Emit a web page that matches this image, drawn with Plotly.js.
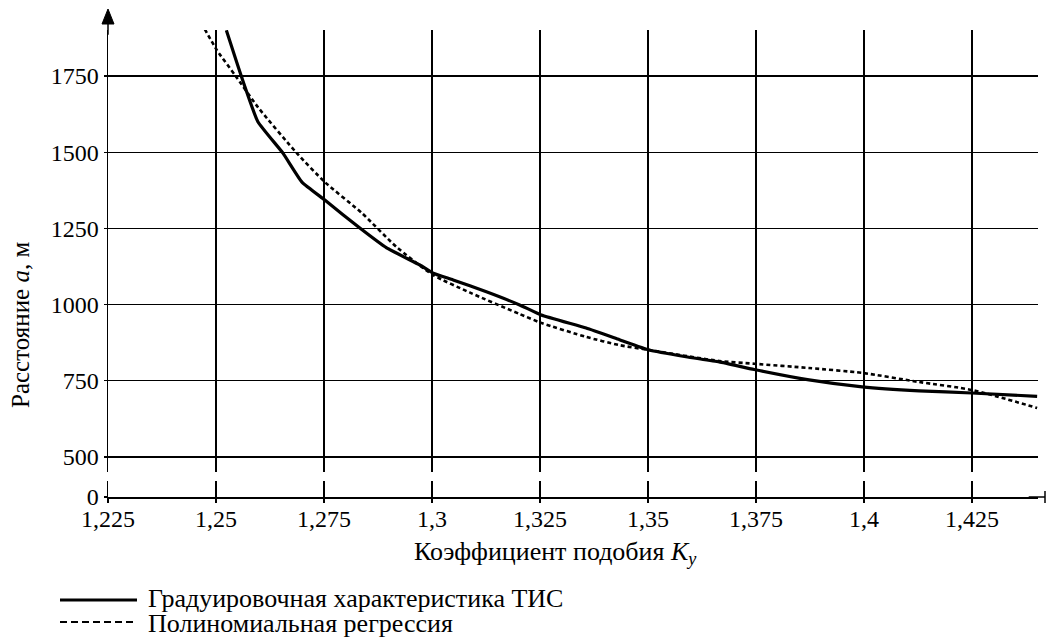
<!DOCTYPE html>
<html>
<head>
<meta charset="utf-8">
<script src="https://cdn.plot.ly/plotly-3.0.1.min.js"></script>
<style>html,body{margin:0;padding:0;background:#fff;}#chart{width:1047px;height:639px;}</style>
</head>
<body>
<div id="chart"></div>
<script>
// Calibration curve (solid)
const xSolid = [1.2524,1.2559,1.2597,1.2655,1.2699,1.2752,1.2833,1.2895,1.2972,1.3003,1.3049,1.3126,1.3203,1.3253,1.3357,1.3434,1.3503,1.3588,1.3665,1.3746,1.3873,1.3996,1.4128,1.4250,1.4401];
const ySolid = [1900,1748,1600,1497,1402,1343,1251,1186,1130,1103,1081,1042,999,966,923,885,851,829,812,787,753,730,717,710,699];
// Polynomial regression (dotted)
const xPoly = [1.2474,1.2502,1.2544,1.2597,1.2687,1.2752,1.2838,1.2918,1.3003,1.3087,1.3203,1.3253,1.3357,1.3434,1.3503,1.3665,1.3746,1.3873,1.3996,1.4128,1.4250,1.4401];
const yPoly = [1904,1835,1753,1648,1497,1402,1300,1189,1097,1040,969,940,894,867,851,815,806,792,776,746,720,661];

const seriesNames = ['Градуировочная характеристика ТИС', 'Полиномиальная регрессия'];

const xTickVals = [1.225,1.25,1.275,1.3,1.325,1.35,1.375,1.4,1.425];
const xTickText = ['1,225','1,25','1,275','1,3','1,325','1,35','1,375','1,4','1,425'];
const yLowTickVals = [0];
const yLowTickText = ['0'];
const yTickVals = [500,750,1000,1250,1500,1750];
const yTickText = ['500','750','1000','1250','1500','1750'];

const xTitle = 'Коэффициент подобия <i>K<sub>y</sub></i>';
const yTitle = 'Расстояние <i>a</i>, м';

const FONT = 'Liberation Serif';
const TICKSIZE = 24;
const TXTSIZE = 26;

const plotW = 1047 - 108 - 9;
const plotH = 639 - 30 - 142;
const px = p => (p - 108) / plotW;
const py = p => (497 - p) / plotH;

const traces = [
  {x: [], y: [], type: 'scatter', mode: 'lines', xaxis: 'x', yaxis: 'y', showlegend: false, hoverinfo: 'skip'},
  {x: xSolid, y: ySolid, type: 'scatter', mode: 'lines', name: seriesNames[0], xaxis: 'x', yaxis: 'y2',
   line: {color: '#000', width: 3.2, shape: 'spline', smoothing: 0.4}},
  {x: xPoly, y: yPoly, type: 'scatter', mode: 'lines', name: seriesNames[1], xaxis: 'x', yaxis: 'y2',
   line: {color: '#000', width: 2.6, dash: '4px,3px', shape: 'spline', smoothing: 0.6}}
];

const shapes = [
  // axis break gap
  {type: 'rect', xref: 'paper', yref: 'paper', x0: px(101), x1: 0.995, y0: py(481), y1: py(472),
   fillcolor: '#ffffff', opacity: 1, line: {width: 0, color: '#ffffff'}, layer: 'above'},
  // x axis extension with end tick
  {type: 'line', xref: 'paper', yref: 'paper', x0: 0.99, x1: px(1045), y0: 0, y1: 0,
   line: {color: '#000', width: 1.5}, layer: 'above'},
  {type: 'line', xref: 'paper', yref: 'paper', x0: px(1045), x1: px(1045), y0: py(491), y1: py(503),
   line: {color: '#000', width: 1.5}, layer: 'above'},
  // y axis extension to arrow
  {type: 'line', xref: 'paper', yref: 'paper', x0: 0, x1: 0, y0: 0.99, y1: py(20),
   line: {color: '#000', width: 1.5}, layer: 'above'},
  {type: 'path', xref: 'paper', yref: 'paper',
   path: `M ${px(102)} ${py(24)} L ${px(108)} ${py(9)} L ${px(114)} ${py(24)} Z`,
   fillcolor: '#000', line: {color: '#000', width: 1}, layer: 'above'},
  // legend samples
  {type: 'line', xref: 'paper', yref: 'paper', x0: px(60), x1: px(137), y0: py(600), y1: py(600),
   line: {color: '#000', width: 3.2}},
  {type: 'line', xref: 'paper', yref: 'paper', x0: px(60), x1: px(137), y0: py(622), y1: py(622),
   line: {color: '#000', width: 2.2, dash: '7px,4px'}}
];

const annotations = [
  {text: yTitle, xref: 'paper', yref: 'paper', x: px(20), y: py(325), textangle: -90,
   showarrow: false, font: {family: FONT, size: 25, color: '#000'}, xanchor: 'center', yanchor: 'middle'},
  {text: xTitle, xref: 'paper', yref: 'paper', x: px(555), y: py(553),
   showarrow: false, font: {family: FONT, size: TXTSIZE, color: '#000'}, xanchor: 'center', yanchor: 'middle'},
  {text: seriesNames[0], xref: 'paper', yref: 'paper', x: px(146), y: py(598),
   showarrow: false, font: {family: FONT, size: TXTSIZE, color: '#000'}, xanchor: 'left', yanchor: 'middle'},
  {text: seriesNames[1], xref: 'paper', yref: 'paper', x: px(146), y: py(623),
   showarrow: false, font: {family: FONT, size: TXTSIZE, color: '#000'}, xanchor: 'left', yanchor: 'middle'}
];

const axCommon = {
  showgrid: true, gridcolor: '#000', gridwidth: 1.3, zeroline: false,
  showline: true, linecolor: '#000', linewidth: 1.5,
  ticks: 'outside', tickwidth: 1.3, tickcolor: '#000',
  tickfont: {family: FONT, size: TICKSIZE, color: '#000'}, fixedrange: true
};

const layout = {
  width: 1047, height: 639,
  margin: {l: 108, r: 9, t: 30, b: 142, pad: 0},
  paper_bgcolor: '#fff', plot_bgcolor: '#fff',
  showlegend: false,
  font: {family: FONT, color: '#000'},
  xaxis: Object.assign({}, axCommon, {range: [1.225, 1.4403], tickmode: 'array',
    tickvals: xTickVals, ticktext: xTickText, ticklen: 4, ticklabelstandoff: -4, anchor: 'y'}),
  yaxis: Object.assign({}, axCommon, {range: [0, 100], domain: [0, py(481)], tickmode: 'array',
    tickvals: yLowTickVals, ticktext: yLowTickText, ticklen: 3, anchor: 'x', showgrid: false}),
  yaxis2: Object.assign({}, axCommon, {range: [450.8, 1901], domain: [py(472), 1], tickmode: 'array',
    tickvals: yTickVals, ticktext: yTickText, ticklen: 3, anchor: 'x'}),
  shapes: shapes,
  annotations: annotations
};

Plotly.newPlot('chart', traces, layout, {staticPlot: true, displayModeBar: false});
</script>
</body>
</html>
